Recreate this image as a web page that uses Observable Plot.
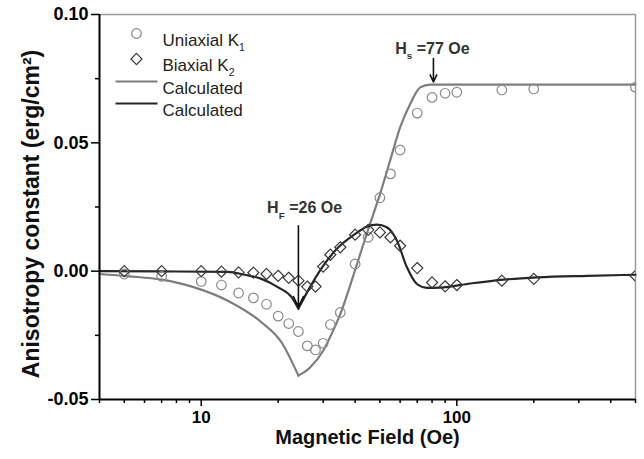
<!DOCTYPE html>
<html><head><meta charset="utf-8">
<script src="https://cdn.jsdelivr.net/npm/d3@7"></script>
<script src="https://cdn.jsdelivr.net/npm/@observablehq/plot@0.6"></script>
<style>html,body{margin:0;padding:0;background:#fff;} #chart{width:644px;height:459px;}</style>
</head><body><div id="chart"></div>
<script>
// Measured data (Oe, erg/cm^2)
const fieldOe = [5,7,10,12,14,16,18,20,22,24,26,28,30,32,35,40,45,50,55,60,70,80,90,100,150,200,500];
const uniaxialK1 = [-0.0011,-0.0020,-0.0040,-0.0054,-0.0085,-0.0104,-0.0129,-0.0175,-0.0204,-0.0235,-0.0291,-0.0307,-0.0281,-0.0208,-0.0161,0.0028,0.0132,0.0286,0.0379,0.0472,0.0616,0.0677,0.0693,0.0697,0.0706,0.0710,0.0716];
const biaxialK2 = [0,0,0,-0.0002,-0.0005,-0.0006,-0.0011,-0.0018,-0.0026,-0.0037,-0.0060,-0.0060,0.0018,0.0064,0.0093,0.0142,0.0161,0.0151,0.0132,0.0099,0.0012,-0.0044,-0.0059,-0.0054,-0.0037,-0.0030,-0.0018];
// Calculated curves (segment 0: below the cusp field, segment 1: above it)
const calcK1Field = [4,5.2,7,9.4,12.7,17.2,20.6,24, 24,26.6,30,32,35,40.7,45.1,50.1,54.8,60,65.7,71.9,78.7,120,500];
const calcK1 = [-0.0011,-0.0020,-0.0033,-0.0063,-0.0115,-0.0199,-0.0277,-0.0407, -0.0407,-0.0376,-0.0310,-0.0255,-0.0167,0.0028,0.0166,0.0301,0.0430,0.0560,0.0651,0.0716,0.0727,0.0727,0.0727];
const calcK1Seg = [0,0,0,0,0,0,0,0, 1,1,1,1,1,1,1,1,1,1,1,1,1,1,1];
const calcK2Field = [4,7,12.7,14.8,17.2,20,22.6,24, 24,26.6,30,34.4,40,44.4,48.7,53.2,58.3,63.8,69.8,76.4,86,113,152.6,206,324,500];
const calcK2 = [0,-0.0001,-0.0003,-0.0014,-0.0030,-0.0063,-0.0102,-0.0146, -0.0146,-0.0063,0.0021,0.0093,0.0145,0.0173,0.0181,0.0171,0.0119,0.0015,-0.0050,-0.0065,-0.0064,-0.0048,-0.0033,-0.0024,-0.0018,-0.0014];
const calcK2Seg = [0,0,0,0,0,0,0,0, 1,1,1,1,1,1,1,1,1,1,1,1,1,1,1,1,1,1];
// Axis ticks
const xMajorTicks = [10, 100];
const xMinorTicks = [4,5,6,7,8,9,20,30,40,50,60,70,80,90,200,300,400,500];
const yMajorTicks = [-0.05, 0, 0.05, 0.10];
const yMinorTicks = [-0.025, 0.025, 0.075];
// Annotations
const annotText = ["H_{F} =26 Oe", "H_{s} =77 Oe"];
const annotTextField = [18.1, 57.4];
const annotTextK = [0.0245, 0.0867];
const arrowField = [24, 81];
const arrowTopK = [0.0177, 0.0828];
const arrowTipK = [-0.0140, 0.0737];
const legendLabels = ["Uniaxial K_{1}", "Biaxial K_{2}", "Calculated", "Calculated"];

const GRAY = "#7d7d7d", DARK = "#262626";
const measured = fieldOe.map((h, i) => ({h, k1: uniaxialK1[i], k2: biaxialK2[i]}));
const c1 = calcK1Field.map((h, i) => ({h, k: calcK1[i], s: calcK1Seg[i]}));
const c2 = calcK2Field.map((h, i) => ({h, k: calcK2[i], s: calcK2Seg[i]}));
const annots = annotText.map((t, i) => ({t, h: annotTextField[i], k: annotTextK[i]}));
const arrows = arrowField.map((h, i) => ({h, k1: arrowTopK[i], k2: arrowTipK[i]}));
const lineSymbol = {draw(ctx, size) { ctx.moveTo(-21, 0); ctx.lineTo(21, 0); }};

const font = "Liberation Sans, Arial, sans-serif";
const svg = Plot.plot({
  width: 644, height: 459,
  marginLeft: 99, marginRight: 9, marginTop: 14, marginBottom: 60,
  style: {fontFamily: font, background: "#fff", color: "#000"},
  x: {type: "log", domain: [4, 500], axis: null},
  y: {domain: [-0.05, 0.10], axis: null},
  marks: [
    Plot.axisX(xMajorTicks, {tickSize: 7, tickPadding: 4, tickFormat: d => String(d), fontSize: 17, fontWeight: "bold", strokeWidth: 1.5, label: null}),
    Plot.axisX(xMinorTicks, {tickSize: 4, tickFormat: () => "", strokeWidth: 1.5, label: null}),
    Plot.axisY(yMajorTicks, {tickSize: 8, tickPadding: 3, tickFormat: d => d.toFixed(2), fontSize: 18, fontWeight: "bold", strokeWidth: 1.5, label: null}),
    Plot.axisY(yMinorTicks, {tickSize: 4, tickFormat: () => "", strokeWidth: 1.5, label: null}),
    Plot.ruleY([0.10], {stroke: "#9a9a9a", strokeWidth: 1.5}),
    Plot.ruleX([500], {stroke: "#9a9a9a", strokeWidth: 1.5}),
    Plot.line(c1, {x: "h", y: "k", z: "s", stroke: GRAY, strokeWidth: 2.2, curve: "monotone-x"}),
    Plot.line(c2, {x: "h", y: "k", z: "s", stroke: DARK, strokeWidth: 2.2, curve: "monotone-x"}),
    Plot.dot(measured, {x: "h", y: "k1", r: 4.8, stroke: "#8a8a8a", strokeWidth: 1.2, fill: "none", clip: true}),
    Plot.dot(measured, {x: "h", y: "k2", r: 5, symbol: "diamond2", stroke: "#3a3a3a", strokeWidth: 1.2, fill: "none", clip: true}),
    Plot.ruleX([4], {stroke: "#000", strokeWidth: 2}),
    Plot.ruleY([-0.05], {stroke: "#000", strokeWidth: 2}),
    Plot.arrow(arrows, {x1: "h", x2: "h", y1: "k1", y2: "k2", stroke: "#111", strokeWidth: 1.6, headLength: 11, headAngle: 50}),
    Plot.text(annots, {x: "h", y: "k", text: "t", textAnchor: "start", fontSize: 16, fontWeight: "bold", fill: "#333"}),
    // legend
    Plot.dot([legendLabels[0]], {frameAnchor: "top-left", dx: 37, dy: 19, r: 4.8, stroke: "#8a8a8a", strokeWidth: 1.2, fill: "none"}),
    Plot.dot([legendLabels[1]], {frameAnchor: "top-left", dx: 37, dy: 44.5, r: 5, symbol: "diamond2", stroke: "#3a3a3a", strokeWidth: 1.2, fill: "none"}),
    Plot.dot([legendLabels[2]], {frameAnchor: "top-left", dx: 37, dy: 67, symbol: lineSymbol, stroke: GRAY, strokeWidth: 2.2, fill: "none"}),
    Plot.dot([legendLabels[3]], {frameAnchor: "top-left", dx: 37, dy: 89, symbol: lineSymbol, stroke: DARK, strokeWidth: 2.2, fill: "none"}),
    Plot.text([legendLabels[0]], {frameAnchor: "top-left", dx: 63, dy: 19, textAnchor: "start", fontSize: 17, fill: "#222"}),
    Plot.text([legendLabels[1]], {frameAnchor: "top-left", dx: 63, dy: 44.5, textAnchor: "start", fontSize: 17, fill: "#222"}),
    Plot.text([legendLabels[2]], {frameAnchor: "top-left", dx: 63, dy: 67, textAnchor: "start", fontSize: 17, fill: "#222"}),
    Plot.text([legendLabels[3]], {frameAnchor: "top-left", dx: 63, dy: 89, textAnchor: "start", fontSize: 17, fill: "#222"}),
    // axis titles
    Plot.text(["Magnetic Field (Oe)"], {frameAnchor: "bottom", dy: 44, textAnchor: "middle", fontSize: 20, fontWeight: "bold", fill: "#111"}),
    Plot.text(["Anisotropy constant (erg/cm²)"], {frameAnchor: "left", dx: -68, dy: 7, textAnchor: "middle", rotate: -90, fontSize: 23, fontWeight: "bold", fill: "#111"})
  ]
});
document.getElementById("chart").appendChild(svg);

// subscripts via tspans
const NS = "http://www.w3.org/2000/svg";
svg.querySelectorAll("text").forEach(t => {
  const s = t.textContent;
  const m = s.match(/^(.*?)_\{(.*?)\}(.*)$/);
  if (!m) return;
  const fs = parseFloat(getComputedStyle(t).fontSize) || 16;
  t.textContent = "";
  t.appendChild(document.createTextNode(m[1]));
  const sub = document.createElementNS(NS, "tspan");
  sub.setAttribute("font-size", (fs * 0.62).toFixed(1));
  sub.setAttribute("dy", (fs * 0.32).toFixed(1));
  sub.textContent = m[2];
  t.appendChild(sub);
  if (m[3]) {
    const rest = document.createElementNS(NS, "tspan");
    rest.setAttribute("dy", (-fs * 0.32).toFixed(1));
    rest.textContent = m[3];
    t.appendChild(rest);
  }
});
</script>
</body></html>
